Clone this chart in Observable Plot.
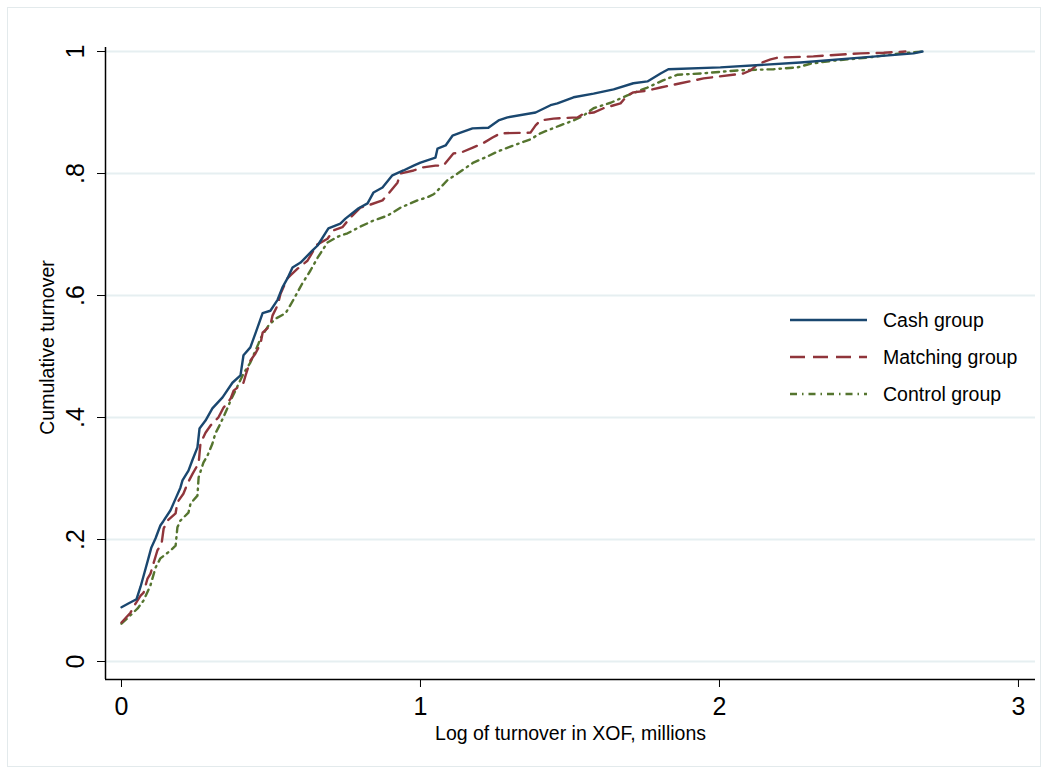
<!DOCTYPE html>
<html><head><meta charset="utf-8">
<script src="https://cdn.jsdelivr.net/npm/d3@7"></script>
<script src="https://cdn.jsdelivr.net/npm/@observablehq/plot@0.6"></script>
<style>
html,body{margin:0;padding:0;background:#fff;}
#wrap{position:relative;width:1048px;height:774px;font-family:"Liberation Sans",Arial,sans-serif;}
#border{position:absolute;left:7px;top:7px;width:1032px;height:758px;border:1px solid #e3eaec;pointer-events:none;}
#legend{position:absolute;left:0;top:0;pointer-events:none;}
</style></head><body>
<div id="wrap"><div id="chart"></div><div id="border"></div><svg id="legend" width="1048" height="774"></svg></div>
<script>
// ---- data ----
const seriesNames = ["Cash group", "Matching group", "Control group"];
const cashX = [0,0.023,0.050,0.064,0.077,0.090,0.100,0.114,0.130,0.140,0.164,0.181,0.197,0.204,0.224,0.237,0.254,0.261,0.281,0.304,0.338,0.371,0.398,0.408,0.431,0.448,0.472,0.498,0.522,0.538,0.555,0.572,0.599,0.639,0.656,0.692,0.732,0.749,0.793,0.823,0.843,0.873,0.906,0.943,0.977,1.000,1.050,1.057,1.084,1.107,1.134,1.174,1.227,1.261,1.291,1.385,1.435,1.458,1.512,1.579,1.646,1.712,1.759,1.803,1.829,2.003,2.271,2.472,2.649,2.679];
const cashY = [0.089,0.095,0.102,0.123,0.146,0.169,0.187,0.202,0.223,0.230,0.248,0.267,0.285,0.297,0.313,0.330,0.351,0.382,0.395,0.415,0.433,0.457,0.469,0.502,0.515,0.538,0.571,0.575,0.593,0.613,0.628,0.646,0.654,0.674,0.682,0.710,0.718,0.726,0.743,0.751,0.769,0.777,0.797,0.805,0.813,0.818,0.826,0.841,0.846,0.862,0.867,0.874,0.875,0.887,0.892,0.900,0.912,0.915,0.925,0.931,0.938,0.948,0.951,0.964,0.971,0.974,0.982,0.990,0.997,1.000];
const matchX = [0,0.030,0.047,0.064,0.074,0.087,0.097,0.107,0.120,0.134,0.141,0.154,0.181,0.187,0.207,0.221,0.238,0.258,0.261,0.264,0.281,0.298,0.324,0.341,0.365,0.375,0.408,0.415,0.431,0.448,0.465,0.472,0.498,0.505,0.522,0.532,0.555,0.565,0.589,0.622,0.639,0.649,0.689,0.709,0.739,0.766,0.799,0.826,0.873,0.893,0.923,0.933,0.977,1.007,1.050,1.077,1.110,1.134,1.177,1.207,1.241,1.268,1.368,1.385,1.401,1.445,1.525,1.545,1.579,1.612,1.669,1.692,1.712,1.759,1.803,1.870,1.947,2.080,2.104,2.130,2.171,2.194,2.314,2.472,2.549,2.622];
const matchY = [0.064,0.080,0.095,0.108,0.113,0.136,0.144,0.161,0.182,0.193,0.218,0.231,0.243,0.261,0.275,0.292,0.308,0.325,0.341,0.357,0.375,0.387,0.400,0.416,0.431,0.444,0.457,0.469,0.493,0.505,0.521,0.539,0.551,0.567,0.584,0.603,0.628,0.633,0.644,0.657,0.671,0.682,0.693,0.707,0.712,0.728,0.744,0.748,0.756,0.767,0.785,0.800,0.805,0.810,0.813,0.813,0.833,0.834,0.843,0.849,0.859,0.866,0.867,0.879,0.887,0.890,0.892,0.898,0.900,0.907,0.915,0.928,0.933,0.936,0.941,0.948,0.956,0.964,0.969,0.980,0.987,0.990,0.992,0.997,0.998,1.000];
const ctrlX = [0,0.020,0.054,0.074,0.097,0.114,0.130,0.164,0.181,0.187,0.197,0.224,0.231,0.254,0.258,0.274,0.288,0.304,0.314,0.331,0.355,0.365,0.381,0.408,0.431,0.458,0.465,0.492,0.515,0.549,0.575,0.605,0.632,0.656,0.689,0.726,0.756,0.799,0.843,0.890,0.933,0.990,1.023,1.044,1.067,1.090,1.124,1.177,1.224,1.258,1.311,1.368,1.401,1.468,1.512,1.545,1.579,1.636,1.692,1.759,1.813,1.860,1.937,2.060,2.181,2.261,2.304,2.381,2.495,2.605,2.679];
const ctrlY = [0.062,0.071,0.087,0.100,0.125,0.154,0.169,0.182,0.190,0.220,0.231,0.244,0.259,0.272,0.302,0.326,0.338,0.357,0.374,0.390,0.416,0.428,0.444,0.472,0.490,0.521,0.530,0.551,0.562,0.571,0.593,0.620,0.641,0.662,0.687,0.697,0.702,0.713,0.723,0.731,0.744,0.756,0.761,0.766,0.777,0.789,0.800,0.818,0.828,0.836,0.846,0.856,0.866,0.879,0.887,0.895,0.907,0.916,0.928,0.941,0.953,0.962,0.964,0.969,0.971,0.974,0.980,0.985,0.990,0.997,1.000];
const xTicks = [0, 1, 2, 3];
const yTicks = [0, 0.2, 0.4, 0.6, 0.8, 1];
const yTickLabels = ["0", ".2", ".4", ".6", ".8", "1"];
const xTitle = "Log of turnover in XOF, millions";
const yTitle = "Cumulative turnover";

// ---- styles ----
const colors = ["#1a476f", "#90353b", "#55752f"];
const dashes = [null, "15 8", "7 5 1.5 5"];
const font = '"Liberation Sans", Arial, sans-serif';

const toRows = (xs, ys, name) => xs.map((x, i) => ({x, y: ys[i], group: name}));
const cash = toRows(cashX, cashY, seriesNames[0]);
const match = toRows(matchX, matchY, seriesNames[1]);
const ctrl = toRows(ctrlX, ctrlY, seriesNames[2]);

const xDomain = [-0.0535, 3.057];
const yDomain = [-0.0295, 1.0066];

const chart = Plot.plot({
  width: 1048, height: 774,
  marginLeft: 105, marginRight: 13, marginTop: 47, marginBottom: 95,
  style: {fontFamily: font, background: "#fff", color: "#000"},
  x: {domain: xDomain},
  y: {domain: yDomain},
  marks: [
    Plot.ruleY(yTicks, {stroke: "#e6eff1", strokeWidth: 2}),
    Plot.line(ctrl, {x: "x", y: "y", stroke: colors[2], strokeWidth: 2.4, strokeDasharray: dashes[2], curve: "linear"}),
    Plot.line(match, {x: "x", y: "y", stroke: colors[1], strokeWidth: 2.4, strokeDasharray: dashes[1], curve: "linear"}),
    Plot.line(cash, {x: "x", y: "y", stroke: colors[0], strokeWidth: 2.4, curve: "linear"}),
    Plot.ruleX([xDomain[0]], {stroke: "#000", strokeWidth: 1.5}),
    Plot.ruleY([yDomain[0]], {stroke: "#000", strokeWidth: 1.5}),
    Plot.axisX({ticks: xTicks, tickFormat: d => String(d), tickSize: 8, tickPadding: 10, fontSize: 25, label: null, stroke: "#000"}),
    Plot.axisY({ticks: yTicks, tickFormat: (d, i) => yTickLabels[i], tickSize: 8, tickRotate: -90, tickPadding: 14, fontSize: 25, label: null}),
    Plot.text([xTitle], {frameAnchor: "bottom", dy: 54, fontSize: 19.5, text: d => d, lineAnchor: "middle", textAnchor: "middle"}),
    Plot.text([yTitle], {frameAnchor: "left", dx: -58, dy: -16, rotate: -90, fontSize: 19.5, text: d => d, lineAnchor: "middle", textAnchor: "middle"})
  ]
});
document.getElementById("chart").appendChild(chart);

// ---- legend (inside plot area) ----
const leg = d3.select("#legend");
seriesNames.forEach((name, i) => {
  const cy = 320 + i * 37;
  leg.append("line").attr("x1", 790).attr("x2", 867).attr("y1", cy).attr("y2", cy)
    .attr("stroke", colors[i]).attr("stroke-width", 2.4)
    .attr("stroke-dasharray", dashes[i]);
  leg.append("text").attr("x", 883).attr("y", cy).attr("dy", "0.35em")
    .attr("font-family", font).attr("font-size", 19.5).attr("fill", "#000").text(name);
});
</script></body></html>
